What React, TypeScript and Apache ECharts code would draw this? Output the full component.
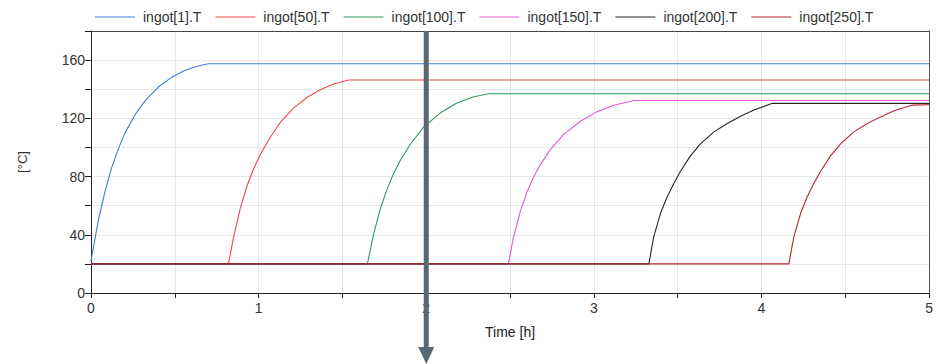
import React, { useEffect, useRef } from "react";
import * as echarts from "echarts";

const seriesNames = ["ingot[1].T", "ingot[50].T", "ingot[100].T", "ingot[150].T", "ingot[200].T", "ingot[250].T"];
const seriesColors = ["#3b7fd6", "#f0474c", "#2a9a5c", "#e15bd4", "#262626", "#b3262d"];

const t1 = [0, 0.044, 0.084, 0.123, 0.163, 0.203, 0.263, 0.322, 0.402, 0.482, 0.561, 0.64, 0.70, 5];
const v1 = [22, 50, 70, 86, 99, 110, 122.5, 132, 141.5, 148.3, 153, 156, 157.5, 157.5];

const t50 = [0, 0.82, 0.85, 0.89, 0.929, 0.969, 1.009, 1.069, 1.128, 1.208, 1.288, 1.367, 1.447, 1.536, 5];
const v50 = [20, 20, 38, 58, 73, 85, 95, 107, 117, 127, 134.3, 139.6, 143.6, 146.3, 146.3];

const t100 = [0, 1.649, 1.685, 1.725, 1.765, 1.805, 1.845, 1.904, 1.984, 2.084, 2.183, 2.283, 2.373, 5];
const v100 = [20, 20, 40, 57.5, 71, 82, 91, 102, 114, 123.8, 130.5, 134.8, 136.9, 136.9];

const t150 = [0, 2.49, 2.52, 2.561, 2.6, 2.64, 2.68, 2.74, 2.82, 2.92, 3.02, 3.12, 3.24, 5];
const v150 = [20, 20, 38, 56, 69, 79.5, 88, 98.5, 109, 118, 124.6, 129, 132.3, 132.3];

const t200 = [0, 3.328, 3.357, 3.397, 3.437, 3.477, 3.516, 3.576, 3.636, 3.716, 3.796, 3.875, 3.955, 4.065, 5];
const v200 = [20, 20, 38.5, 54.6, 66, 75.2, 83.5, 94.2, 102.5, 110.7, 116.5, 121.5, 125.7, 130.3, 130.3];

const t250 = [0, 4.163, 4.193, 4.233, 4.272, 4.312, 4.352, 4.412, 4.472, 4.551, 4.631, 4.711, 4.79, 4.9, 5];
const v250 = [20, 20, 38.5, 54.6, 66, 75.2, 83.5, 94.2, 102.5, 110.7, 116.5, 121, 125.2, 129.1, 129.3];

const times = [t1, t50, t100, t150, t200, t250];
const values = [v1, v50, v100, v150, v200, v250];

const markerTime = 2;

const FONT = "Liberation Sans, Arial, sans-serif";

export default function App() {
  const ref = useRef<HTMLDivElement>(null);
  useEffect(() => {
    if (!ref.current) return;
    const chart = echarts.init(ref.current, undefined, { renderer: "svg" });
    const gridLeft = 91, gridRight = 6, gridTop = 31, gridBottom = 71;
    const option: any = {
      animation: false,
      backgroundColor: "#ffffff",
      textStyle: { fontFamily: FONT },
      legend: {
        top: 5,
        left: 90,
        itemWidth: 40,
        itemHeight: 14,
        itemGap: 14,
        textStyle: { fontFamily: FONT, fontSize: 14, color: "#333", padding: [0, 0, 0, 3] },
        data: seriesNames.map((n) => ({ name: n, icon: "path://M0,0L40,0L40,1.2L0,1.2Z" })),
      },
      grid: { left: gridLeft, right: gridRight, top: gridTop, bottom: gridBottom, containLabel: false },
      xAxis: [
        {
          type: "value",
          min: 0,
          max: 5,
          interval: 0.5,
          name: "Time [h]",
          nameLocation: "middle",
          nameGap: 32,
          nameTextStyle: { fontFamily: FONT, fontSize: 14, color: "#222" },
          axisLine: { show: true, onZero: false, lineStyle: { color: "#222", width: 1 } },
          axisTick: { show: true, length: 5, lineStyle: { color: "#222" } },
          axisLabel: {
            fontFamily: FONT,
            fontSize: 14,
            color: "#333",
            margin: 8,
            formatter: (v: number) => (Math.abs(v - Math.round(v)) < 1e-9 ? String(Math.round(v)) : ""),
          },
          splitLine: { show: true, lineStyle: { color: "#e6e6e6", width: 1 } },
        },
        {
          type: "value",
          position: "top",
          min: 0,
          max: 5,
          axisLine: { show: true, onZero: false, lineStyle: { color: "#444", width: 1 } },
          axisTick: { show: false },
          axisLabel: { show: false },
          splitLine: { show: false },
        },
      ],
      yAxis: [
        {
          type: "value",
          min: 0,
          max: 180,
          interval: 20,
          name: "[°C]",
          nameLocation: "middle",
          nameGap: 62,
          nameRotate: 90,
          nameTextStyle: { fontFamily: FONT, fontSize: 13, color: "#333" },
          axisLine: { show: true, onZero: false, lineStyle: { color: "#222", width: 1 } },
          axisTick: { show: true, length: 6, lineStyle: { color: "#222" } },
          axisLabel: {
            fontFamily: FONT,
            fontSize: 14,
            color: "#333",
            margin: 6,
            formatter: (v: number) => (v % 40 === 0 && v < 180 ? String(v) : ""),
          },
          splitLine: { show: true, lineStyle: { color: "#e6e6e6", width: 1 } },
        },
        {
          type: "value",
          position: "right",
          min: 0,
          max: 180,
          axisLine: { show: true, onZero: false, lineStyle: { color: "#555", width: 1 } },
          axisTick: { show: false },
          axisLabel: { show: false },
          splitLine: { show: false },
        },
      ],
      series: seriesNames.map((name, i) => ({
        name,
        type: "line",
        xAxisIndex: 0,
        yAxisIndex: 0,
        symbol: "none",
        smooth: false,
        lineStyle: { color: seriesColors[i], width: 1.1 },
        itemStyle: { color: seriesColors[i] },
        data: times[i].map((t, j) => [t, values[i][j]]),
      })),
    };
    chart.setOption(option);

    // arrow marker at t = markerTime, positioned via the axis scale
    const px = chart.convertToPixel({ xAxisIndex: 0 }, markerTime) as number;
    chart.setOption({
      graphic: [
        {
          type: "line",
          silent: true,
          z: 100,
          shape: { x1: px, y1: gridTop, x2: px, y2: 349 },
          style: { stroke: "#5b6770", lineWidth: 5 },
        },
        {
          type: "polygon",
          silent: true,
          z: 100,
          shape: { points: [[px - 8, 347], [px + 8, 347], [px, 364]] },
          style: { fill: "#5b6770" },
        },
      ],
    });
    return () => chart.dispose();
  }, []);
  return <div ref={ref} style={{ position: "fixed", left: 0, top: 0, width: 936, height: 364 }} />;
}
